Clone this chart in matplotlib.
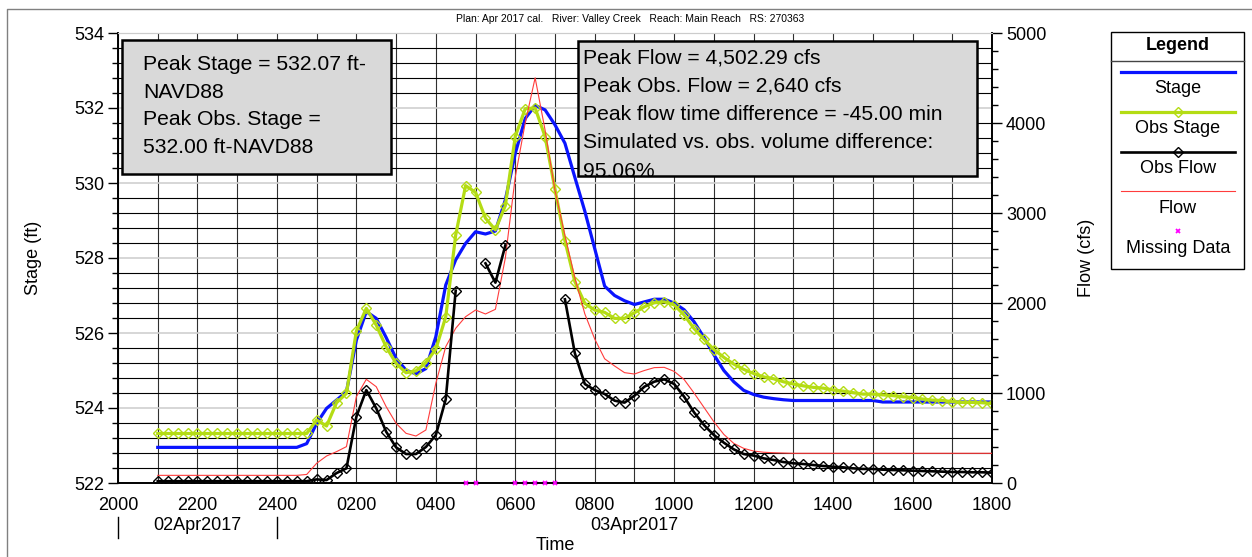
import numpy as np
import pandas as pd
import matplotlib
matplotlib.use("Agg")
import matplotlib.pyplot as plt
import matplotlib.dates as mdates
from matplotlib.ticker import MultipleLocator, FuncFormatter
from matplotlib.patches import Rectangle
from matplotlib.lines import Line2D
from matplotlib.transforms import blended_transform_factory

plt.rcParams['font.family'] = ['Liberation Sans', 'DejaVu Sans']

W, H = 1252, 557

# 15-minute series, 02Apr2017 2100 -> 03Apr2017 1800
times = pd.date_range('2017-04-02 21:00', '2017-04-03 18:00', freq='15min')

stage = [522.95] * 15 + [
    523.05, 523.59, 523.99, 524.21, 524.43, 525.81, 526.57, 526.39, 525.88,
    525.32, 525.01, 524.91, 525.05, 525.90, 527.28, 527.95, 528.39, 528.70,
    528.64, 528.72, 529.55, 530.79, 531.72, 532.07, 531.95, 531.55, 531.06,
    530.15, 529.25, 528.25, 527.25, 527.00, 526.86, 526.76, 526.83, 526.90,
    526.90, 526.80, 526.62, 526.30, 525.88, 525.42, 525.00, 524.70, 524.47,
    524.36, 524.29, 524.25, 524.22] + [524.20] * 9 + [524.16] * 12

obs_stage = [523.32] * 16 + [
    523.68, 523.52, 524.14, 524.39, 526.05, 526.66, 526.21, 525.63, 525.19,
    524.94, 524.99, 525.21, 525.57, 526.43, 528.61, 529.93, 529.75, 529.06,
    528.75, 529.40, 531.24, 531.98, 532.00, 531.24, 529.83, 528.46, 527.37,
    526.79, 526.61, 526.55, 526.39, 526.39, 526.54, 526.70, 526.81, 526.83,
    526.75, 526.48, 526.12, 525.83, 525.56, 525.35, 525.17, 525.03, 524.92,
    524.83, 524.78, 524.70, 524.64, 524.59, 524.55, 524.53, 524.48, 524.45,
    524.41, 524.37, 524.37, 524.35, 524.33, 524.30, 524.28, 524.24, 524.21,
    524.20, 524.17, 524.15, 524.15, 524.14, 524.12]

flow = [85] * 15 + [
    95, 219, 300, 348, 404, 959, 1152, 1070, 848, 663, 552, 522, 589, 1108,
    1515, 1719, 1848, 1922, 1878, 1930, 2500, 3400, 4000, 4502, 3922, 3250,
    2750, 2280, 1880, 1600, 1380, 1300, 1226, 1211, 1250, 1282, 1285, 1240,
    1150, 1000, 840, 680, 540, 440, 385, 355, 342, 336, 333] + [330] * 21

nan = np.nan
obs_flow = [20] * 16 + [
    40, 33, 110, 163, 737, 1033, 830, 570, 396, 322, 322, 400, 533, 930, 2137,
    nan, nan, 2441, 2226, 2640, nan, nan, nan, nan, nan,
    2041, 1441, 1100, 1033, 989, 915, 893, 970, 1070, 1126, 1152, 1100, 959,
    785, 644, 533, 448, 374, 322, 305, 274, 256, 233, 219, 211, 200, 189, 181,
    174, 163, 156, 156, 148, 144, 141, 137, 133, 130, 126, 122, 122, 119, 119,
    115]

title = "Plan: Apr 2017 cal.   River: Valley Creek   Reach: Main Reach   RS: 270363"
stage_box = ["Peak Stage = 532.07 ft-", "NAVD88", "Peak Obs. Stage =",
             "532.00 ft-NAVD88"]
flow_box = ["Peak Flow = 4,502.29 cfs", "Peak Obs. Flow = 2,640 cfs",
            "Peak flow time difference = -45.00 min",
            "Simulated vs. obs. volume difference:", "95.06%"]
day_labels = ["02Apr2017", "03Apr2017"]

C_STAGE = '#0a14ff'
C_OBS_STAGE = '#b4dc14'
C_FLOW = '#ff3c3c'
C_OBS_FLOW = 'black'
C_MISS = '#ff00ff'


def fx(px):
    return px / W


def fy(py):
    return 1 - py / H


fig = plt.figure(figsize=(W / 100, H / 100), dpi=100)
# outer page frame (only left and top edges fall inside the picture)
fig.lines.append(Line2D([fx(7), fx(7), fx(W + 5)], [fy(H + 5), fy(9), fy(9)],
                        transform=fig.transFigure, color='#808080', lw=1.0,
                        zorder=0))

ax = fig.add_axes([fx(118), fy(483), fx(992) - fx(118), fy(33) - fy(483)])
ax2 = ax.twinx()

mk = dict(marker='D', ms=5.3, mfc='none', mew=1.0)
ax.plot(times, stage, color=C_STAGE, lw=2.3, zorder=3)
ax.plot(times, obs_stage, color=C_OBS_STAGE, lw=2.3, mec=C_OBS_STAGE,
        zorder=3, **mk)
ax2.plot(times, flow, color=C_FLOW, lw=0.8, zorder=3)
ax2.plot(times, obs_flow, color=C_OBS_FLOW, lw=1.9, mec=C_OBS_FLOW,
         zorder=3, **mk)
missing = np.isnan(np.array(obs_flow, dtype=float))
ax2.plot(times[missing], np.zeros(missing.sum()), ls='none', marker='x',
         ms=3.5, mew=1.3, color=C_MISS, clip_on=False, zorder=4)

ax.set_xlim(pd.Timestamp('2017-04-02 20:00'), pd.Timestamp('2017-04-03 18:00'))
ax.set_ylim(522, 534)
ax2.set_ylim(0, 5000)

ax.xaxis.set_major_locator(mdates.HourLocator(byhour=range(0, 24, 2)))
ax.xaxis.set_minor_locator(mdates.HourLocator())


def hhmm(x, pos):
    d = mdates.num2date(x)
    return "2400" if d.hour == 0 else d.strftime("%H%M")


ax.xaxis.set_major_formatter(FuncFormatter(hhmm))
ax.yaxis.set_major_locator(MultipleLocator(2))
ax.yaxis.set_minor_locator(MultipleLocator(0.4))
ax2.yaxis.set_major_locator(MultipleLocator(1000))
ax2.yaxis.set_minor_locator(MultipleLocator(200))

ax.set_axisbelow(True)
ax.grid(which='major', axis='y', color='#d0d0d0', lw=1.2)
ax.grid(which='minor', axis='y', color='black', lw=0.8)
ax.grid(which='both', axis='x', color='#303030', lw=0.8)

for a in (ax, ax2):
    a.tick_params(which='major', length=7, width=1, labelsize=13, color='black')
    a.tick_params(which='minor', length=4, width=1)
    a.spines['top'].set_color('#cccccc')
    for s in ('left', 'right', 'bottom'):
        a.spines[s].set_linewidth(1.2)
ax.tick_params(axis='x', which='major', pad=10, length=0)
ax.tick_params(axis='x', which='minor', length=0)
ax.tick_params(axis='y', which='major', pad=3)
ax2.tick_params(axis='y', which='major', pad=3)

ax.set_ylabel("Stage (ft)", fontsize=13, labelpad=23)
ax2.set_ylabel("Flow (cfs)", fontsize=13, labelpad=23)

# date labels below the hour labels
tr = blended_transform_factory(ax.transData, ax.transAxes)
day_edges = [pd.Timestamp('2017-04-02 20:00'), pd.Timestamp('2017-04-03 00:00'),
             pd.Timestamp('2017-04-03 18:00')]
for i, lab in enumerate(day_labels):
    mid = day_edges[i] + (day_edges[i + 1] - day_edges[i]) / 2
    ax.text(mid, (483 - 525) / 450, lab, transform=tr, ha='center',
            va='center', fontsize=13)
for edge in day_edges[:2]:
    ax.plot([edge, edge], [(483 - 517) / 450, (483 - 538) / 450],
            transform=tr, color='black', lw=1, clip_on=False)

fig.text(fx(555), fy(545), "Time", ha='center', va='center', fontsize=13)
fig.text(fx(630), fy(19), title, ha='center', va='center', fontsize=7.5,
         family=['Liberation Sans Narrow', 'Liberation Sans'])


# annotation boxes
def text_box(x0, y0, x1, y1, lines, tx, ty0, dy):
    r = Rectangle((fx(x0), fy(y1)), fx(x1) - fx(x0), fy(y0) - fy(y1),
                  transform=fig.transFigure, facecolor='#d9d9d9',
                  edgecolor='black', lw=1.8, zorder=10)
    fig.patches.append(r)
    for i, line in enumerate(lines):
        t = fig.text(fx(tx), fy(ty0 + i * dy), line, ha='left', va='center',
                     fontsize=15.2, zorder=11)
        t.set_clip_path(r)


text_box(122, 40, 391, 174, stage_box, 143, 64.5, 27.7)
text_box(578, 41, 977, 176, flow_box, 583, 57.5, 28.5)

# legend
lx0, lx1, ly0, ly1 = 1111, 1244, 32, 269
fig.patches.append(Rectangle((fx(lx0), fy(ly1)), fx(lx1) - fx(lx0),
                             fy(ly0) - fy(ly1), transform=fig.transFigure,
                             facecolor='white', edgecolor='black', lw=1.0,
                             zorder=10))
fig.lines.append(Line2D([fx(lx0), fx(lx1)], [fy(61), fy(61)],
                        transform=fig.transFigure, color='#444444', lw=1.0,
                        zorder=11))
fig.text(fx(1178), fy(45), "Legend", ha='center', va='center', fontsize=13,
         fontweight='bold', zorder=11)
entries = [("Stage", dict(color=C_STAGE, lw=2.3)),
           ("Obs Stage", dict(color=C_OBS_STAGE, lw=2.3, **mk)),
           ("Obs Flow", dict(color=C_OBS_FLOW, lw=1.9, **mk)),
           ("Flow", dict(color=C_FLOW, lw=0.8)),
           ("Missing Data", dict(color=C_MISS, ls='none', marker='x', ms=3.5,
                                 mew=1.3))]
for i, (lab, style) in enumerate(entries):
    yl = 72 + i * 39.8
    if style.get('ls') == 'none':
        fig.lines.append(Line2D([fx(1178)], [fy(yl)], transform=fig.transFigure,
                                zorder=11, **style))
    else:
        fig.lines.append(Line2D([fx(1121), fx(1235)], [fy(yl), fy(yl)],
                                transform=fig.transFigure, zorder=11,
                                markevery=[], **style))
        if 'marker' in style:
            fig.lines.append(Line2D([fx(1178)], [fy(yl)],
                                    transform=fig.transFigure, zorder=12,
                                    **style))
    fig.text(fx(1178), fy(yl + 17), lab, ha='center', va='center',
             fontsize=13, zorder=11)

fig.savefig("out.png", dpi=100)
